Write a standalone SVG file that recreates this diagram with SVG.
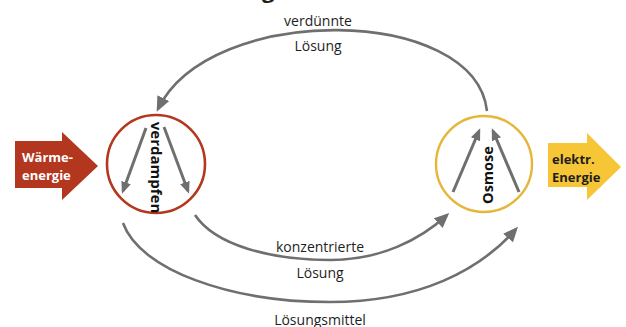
<svg xmlns="http://www.w3.org/2000/svg" width="626" height="327" viewBox="0 0 626 327">
  <style>
    .lbl { font-family: "Open Sans", "Liberation Sans", sans-serif; font-size: 14px; fill: #1e1e1e; text-anchor: middle; }
    .bold { font-family: "Open Sans", "Liberation Sans", sans-serif; font-weight: bold; }
    .flow { fill: none; stroke: #6f6f6f; stroke-width: 2.6; marker-end: url(#head); }
    .inner { fill: none; stroke: #6f6f6f; stroke-width: 3; marker-end: url(#headSmall); }
  </style>
  <defs>
    <marker id="head" viewBox="0 0 15 13" refX="12" refY="6.5" markerWidth="15" markerHeight="13" markerUnits="userSpaceOnUse" orient="auto">
      <path d="M0,0 L15,6.5 L0,13 Z" fill="#6f6f6f"/>
    </marker>
    <marker id="headSmall" viewBox="0 0 12 10" refX="9" refY="5" markerWidth="12" markerHeight="10" markerUnits="userSpaceOnUse" orient="auto">
      <path d="M0,0 L12,5 L0,10 Z" fill="#6f6f6f"/>
    </marker>
  </defs>

  <rect width="626" height="327" fill="#ffffff"/>

  <!-- descender of the heading above the frame -->
  <text class="bold" x="262" y="-2" font-size="22" font-weight="normal" fill="#1e1e1e">g</text>

  <!-- connectors -->
  <g id="connectors">
    <path class="flow" d="M487,111 C475,5 210,2 158,109"/>
    <path class="flow" d="M195,215 C215,245 270,260 330,260 C380,260 420,240 447,215"/>
    <path class="flow" d="M123,223 C140,270 230,302 330,302 C420,302 480,270 516,229"/>
  </g>

  <!-- connector labels -->
  <g id="labels">
    <text class="lbl" x="318" y="26">verdünnte</text>
    <text class="lbl" x="318" y="51">Lösung</text>
    <text class="lbl" x="320" y="252">konzentrierte</text>
    <text class="lbl" x="320" y="278">Lösung</text>
    <text class="lbl" x="320" y="325">Lösungsmittel</text>
  </g>

  <!-- heat input -->
  <g id="waermeenergie">
    <polygon points="15,141 62,141 62,132 98,166 62,200 62,188 15,188" fill="#b3361f"/>
    <text class="bold" x="22" y="162" font-size="13" fill="#ffffff">Wärme-</text>
    <text class="bold" x="22" y="180" font-size="13" fill="#ffffff">energie</text>
  </g>

  <!-- evaporation stage -->
  <g id="verdampfen">
    <circle cx="156" cy="164" r="49" fill="none" stroke="#b3381f" stroke-width="2.6"/>
    <path class="inner" d="M146,128 L123,191"/>
    <path class="inner" d="M164,127 L188,191"/>
    <text class="bold" transform="translate(151,167.5) rotate(90)" x="0" y="0" font-size="15" fill="#111" text-anchor="middle">verdampfen</text>
  </g>

  <!-- osmosis stage -->
  <g id="osmose">
    <circle cx="484" cy="164" r="48" fill="none" stroke="#e6b63a" stroke-width="2.4"/>
    <path class="inner" d="M453,192 L479,131"/>
    <path class="inner" d="M519,192 L493,131"/>
    <text class="bold" transform="translate(493,175) rotate(-90)" x="0" y="0" font-size="14.5" fill="#111" text-anchor="middle">Osmose</text>
  </g>

  <!-- electrical output -->
  <g id="elektr-energie">
    <polygon points="548,143 587,143 587,133 621,167 587,200 587,187 548,187" fill="#f6c636"/>
    <text class="bold" x="552" y="164" font-size="13" fill="#1e1e1e">elektr.</text>
    <text class="bold" x="552" y="182" font-size="13" fill="#1e1e1e">Energie</text>
  </g>
</svg>
